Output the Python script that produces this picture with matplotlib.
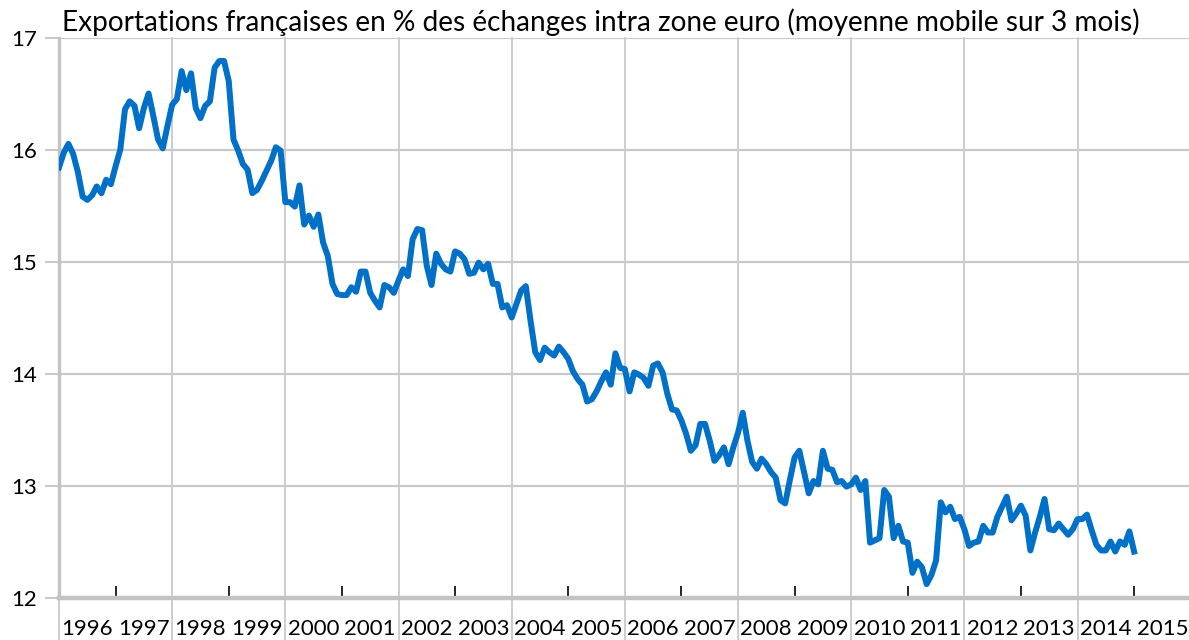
import numpy as np
import matplotlib
matplotlib.use("Agg")
import matplotlib.pyplot as plt

plt.rcParams['font.family'] = ['Lato', 'DejaVu Sans']

# Monthly values, Jan 1996 onwards (3-month moving average, %)
start_year = 1996
share = [
    15.84, 15.97, 16.05, 15.96, 15.80, 15.58, 15.55, 15.59, 15.67, 15.61, 15.73, 15.69,
    15.85, 16.00, 16.36, 16.43, 16.39, 16.19, 16.37, 16.50, 16.30, 16.09, 16.01, 16.21,
    16.40, 16.45, 16.70, 16.53, 16.68, 16.37, 16.28, 16.39, 16.43, 16.73, 16.79, 16.79,
    16.61, 16.09, 15.99, 15.87, 15.82, 15.61, 15.64, 15.72, 15.81, 15.90, 16.02, 15.99,
    15.53, 15.53, 15.49, 15.68, 15.33, 15.41, 15.31, 15.42, 15.17, 15.05, 14.80, 14.71,
    14.70, 14.70, 14.77, 14.73, 14.91, 14.91, 14.72, 14.65, 14.59, 14.79, 14.77, 14.72,
    14.83, 14.93, 14.87, 15.20, 15.29, 15.28, 14.96, 14.79, 15.07, 14.98, 14.93, 14.91,
    15.09, 15.07, 15.02, 14.89, 14.90, 14.99, 14.93, 14.98, 14.80, 14.80, 14.59, 14.61,
    14.50, 14.62, 14.74, 14.78, 14.47, 14.19, 14.12, 14.23, 14.19, 14.16, 14.24, 14.19,
    14.13, 14.02, 13.95, 13.90, 13.75, 13.77, 13.84, 13.93, 14.01, 13.90, 14.18, 14.05,
    14.04, 13.84, 14.01, 13.99, 13.96, 13.89, 14.07, 14.09, 14.01, 13.82, 13.68, 13.67,
    13.58, 13.46, 13.31, 13.36, 13.55, 13.55, 13.40, 13.22, 13.27, 13.34, 13.19, 13.34,
    13.47, 13.65, 13.40, 13.21, 13.15, 13.24, 13.19, 13.12, 13.07, 12.87, 12.84, 13.05,
    13.25, 13.31, 13.12, 12.93, 13.04, 13.01, 13.31, 13.15, 13.14, 13.03, 13.04, 12.99,
    13.01, 13.07, 12.96, 13.04, 12.49, 12.51, 12.53, 12.96, 12.90, 12.53, 12.64, 12.50,
    12.49, 12.22, 12.32, 12.27, 12.12, 12.20, 12.33, 12.85, 12.76, 12.81, 12.70, 12.72,
    12.61, 12.46, 12.49, 12.50, 12.64, 12.58, 12.58, 12.72, 12.81, 12.90, 12.69, 12.75,
    12.82, 12.73, 12.42, 12.58, 12.72, 12.88, 12.61, 12.60, 12.66, 12.61, 12.56, 12.61,
    12.70, 12.70, 12.74, 12.60, 12.47, 12.42, 12.42, 12.50, 12.41, 12.50, 12.47, 12.59,
    12.41,
]
years = list(range(1996, 2016))
title = "Exportations françaises en % des échanges intra zone euro (moyenne mobile sur 3 mois)"

x = start_year + np.arange(len(share)) / 12.0

fig = plt.figure(figsize=(11.89, 6.40), dpi=100)
ax = fig.add_axes([59 / 1189, 1 - 597.5 / 640, 1 - 59 / 1189, 560 / 640])

grid_c = '#c9c9c9'
axis_c = '#c3c3c3'

ax.set_ylim(12, 17)
ax.set_xlim(1996, 2015.97)

# horizontal gridlines
for yv in [13, 14, 15, 16, 17]:
    ax.axhline(yv, color=grid_c, lw=1.6, zorder=1)

# vertical gridlines every two years, running down through the labels
for xv in range(1998, 2016, 2):
    ax.axvline(xv, ymin=-0.08, ymax=1, color=grid_c, lw=1.3, clip_on=False, zorder=1)
ax.axvline(1996, ymin=-0.08, ymax=0, color=grid_c, lw=1.3, clip_on=False, zorder=1)

ax.plot(x, share, color='#0070c8', lw=4.3, solid_joinstyle='round', zorder=3)

for s in ['top', 'right']:
    ax.spines[s].set_visible(False)
ax.spines['left'].set_color(axis_c)
ax.spines['left'].set_linewidth(2.4)
ax.spines['bottom'].set_color(axis_c)
ax.spines['bottom'].set_linewidth(3.2)

ax.set_yticks([12, 13, 14, 15, 16, 17])
ax.tick_params(axis='y', direction='out', length=10, width=1.3, color=axis_c,
               pad=6, labelsize=16)

# black inner ticks at odd years, year labels centred in each year
ax.set_xticks([y for y in years if y % 2 == 1])
ax.set_xticklabels([])
ax.tick_params(axis='x', which='major', direction='in', length=9, width=1.2,
               color='black')
ax.set_xticks([y + 0.5 for y in years], minor=True)
ax.set_xticklabels([str(y) for y in years], minor=True)
ax.tick_params(axis='x', which='minor', length=0, pad=15.5, labelsize=16)

fig.text(62 / 1189, 1 - 31 / 640, title, ha='left', va='baseline', fontsize=20.2)

fig.savefig('out.png', dpi=100)
